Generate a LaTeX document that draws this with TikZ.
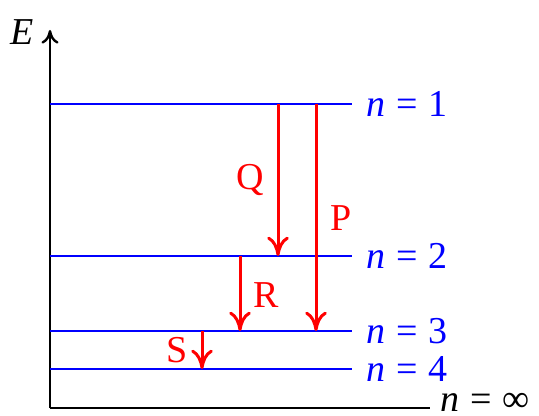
\documentclass[tikz,border=0pt]{standalone}
\usepackage{fontspec}
\setmainfont{Liberation Serif}
\usetikzlibrary{arrows.meta,positioning}
\tikzset{
  >={To[length=3.4mm,width=3.8mm]},
  level/.style ={draw=blue,line width=1.2pt},
  lvllbl/.style={text=blue,anchor=west,inner sep=0pt},
  jump/.style  ={->,draw=red,line width=1.5pt},
  jmplbl/.style={text=red,inner sep=0pt},
  axis/.style  ={draw=black,line width=1.2pt},
}
\newcommand{\lvl}[1]{\textit{n}\hspace{0.28em}=\hspace{0.28em}#1}
\begin{document}
\begin{tikzpicture}[x=0.5pt,y=-0.5pt,font=\fontsize{19}{22}\selectfont]
\useasboundingbox (0,0) rectangle (539,416);
% axes
\coordinate (o) at (50,408);
\coordinate (top) at (50,30);
\coordinate (xend) at (430,408);
\draw[axis,->,>={To[length=2.4mm,width=3mm]}] (o) -- (top);
\draw[axis] (o) -- (xend);
\node[inner sep=0pt] (elbl) at (22,32) {\textit{E}};
\node[inner sep=0pt,anchor=east] (inf) at (530,402) {\lvl{∞}};
% energy levels
\foreach \n/\y in {1/104,2/256,3/331,4/369}{
  \coordinate (l\n a) at (50,\y);
  \coordinate (l\n b) at (352,\y);
  \draw[level] (l\n a) -- (l\n b);
  \node[lvllbl] (n\n) at (366,\y) {\lvl{\n}};
}
% transitions
\coordinate (q1) at (278,104); \coordinate (q2) at (278,256);
\coordinate (p1) at (316,104); \coordinate (p2) at (316,331);
\coordinate (r1) at (240,256); \coordinate (r2) at (240,331);
\coordinate (s1) at (202,331); \coordinate (s2) at (202,369);
\draw[jump] (q1) -- (q2);
\draw[jump] (p1) -- (p2);
\draw[jump] (r1) -- (r2);
\draw[jump] (s1) -- (s2);
\node[jmplbl] (qlbl) at (250,180) {Q};
\node[jmplbl] (plbl) at (341,218) {P};
\node[jmplbl] (rlbl) at (266,295) {R};
\node[jmplbl] (slbl) at (177,350) {S};
\end{tikzpicture}
\end{document}
